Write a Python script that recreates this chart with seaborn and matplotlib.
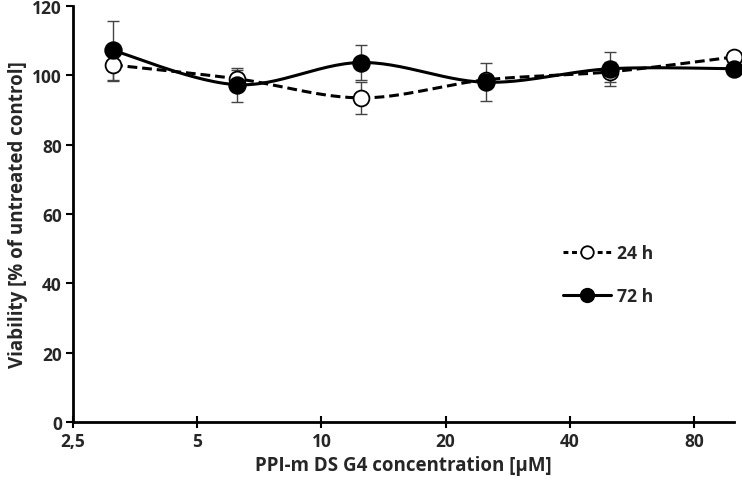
import numpy as np
import pandas as pd
import matplotlib
matplotlib.use("Agg")
import matplotlib.pyplot as plt
from matplotlib.lines import Line2D
import seaborn as sns

# ---- data ----
conc = [3.125, 6.25, 12.5, 25, 50, 100]
v24 = [103.0, 99.0, 93.5, 98.7, 101.0, 105.3]
e24 = [4.6, 2.6, 4.6, 1.0, 2.8, 0.8]
v72 = [107.2, 97.3, 103.7, 98.0, 101.9, 101.9]
e72 = [8.5, 4.9, 5.0, 5.5, 4.9, 0.5]
xticks = [2.5, 5, 10, 20, 40, 80]
xticklabels = ["2,5", "5", "10", "20", "40", "80"]
yticks = [0, 20, 40, 60, 80, 100, 120]

sns.set_theme(style="ticks")
plt.rcParams['font.family'] = ['Open Sans', 'DejaVu Sans']
plt.rcParams['font.weight'] = 'bold'

fig = plt.figure(figsize=(7.42, 4.81), dpi=100)
ax = fig.add_axes([73/742, 58/481, (734-73)/742, (423-7)/481])


def smooth(xs, ys, n=30):
    # Catmull-Rom style smoothing in log-x space (like a spreadsheet smoothed line)
    lx = np.log2(np.asarray(xs, float))
    y = np.asarray(ys, float)
    P = np.column_stack([lx, y])
    P = np.vstack([P[0], P, P[-1]])
    out = []
    for i in range(1, len(P) - 2):
        p0, p1, p2, p3 = P[i-1], P[i], P[i+1], P[i+2]
        t = np.linspace(0, 1, n)[:, None]
        c1 = p1 + (p2 - p0) / 6
        c2 = p2 - (p3 - p1) / 6
        seg = (1-t)**3*p1 + 3*(1-t)**2*t*c1 + 3*(1-t)*t**2*c2 + t**3*p2
        out.append(seg)
    out = np.vstack(out)
    return 2 ** out[:, 0], out[:, 1]

# error bars
ax.errorbar(conc, v24, yerr=e24, fmt="none", ecolor="#444444", elinewidth=1.0,
            capsize=4, capthick=1.0, zorder=2, clip_on=False)
ax.errorbar(conc, v72, yerr=e72, fmt="none", ecolor="#444444", elinewidth=1.0,
            capsize=4, capthick=1.0, zorder=2, clip_on=False)

sx, sy = smooth(conc, v24)
ax.plot(sx, sy, color="black", lw=2.2, ls=(0, (3.2, 1.6)), zorder=3, clip_on=False)
sx, sy = smooth(conc, v72)
ax.plot(sx, sy, color="black", lw=2.2, ls="-", zorder=3, clip_on=False)

df24 = pd.DataFrame({"conc": conc, "v": v24})
df72 = pd.DataFrame({"conc": conc, "v": v72})
sns.scatterplot(data=df24, x="conc", y="v", ax=ax, s=130, facecolor="white",
                edgecolor="black", linewidth=1.3, zorder=4, clip_on=False)
sns.scatterplot(data=df72, x="conc", y="v", ax=ax, s=150, color="black",
                edgecolor="black", linewidth=1.0, zorder=5, clip_on=False)

ax.set_xscale("log")
ax.set_xlim(2.5, 100)
ax.set_ylim(0, 120)
ax.set_xticks(xticks)
ax.set_xticklabels(xticklabels)
ax.minorticks_off()
ax.set_yticks(yticks)
ax.tick_params(axis="both", labelsize=12.5, width=1.5, length=5, color="black")
ax.tick_params(axis="x", direction="inout", length=8, pad=3)
ax.tick_params(axis="y", pad=3)
for lab in ax.get_xticklabels() + ax.get_yticklabels():
    lab.set_fontweight("bold")

for s in ["top", "right"]:
    ax.spines[s].set_visible(False)
for s in ["left", "bottom"]:
    ax.spines[s].set_linewidth(2)
    ax.spines[s].set_color("black")

ax.set_xlabel("PPI-m DS G4 concentration [μM]", fontsize=13.5, fontweight="bold", labelpad=4)
ax.set_ylabel("Viability [% of untreated control]", fontsize=13.5, fontweight="bold", labelpad=3)

handles = [
    Line2D([], [], color="black", lw=2.2, ls=(0, (1.6, 1.2)), marker="o",
           markersize=9, markerfacecolor="white", markeredgecolor="black", markeredgewidth=1.3),
    Line2D([], [], color="black", lw=2.2, ls="-", marker="o",
           markersize=10, markerfacecolor="black", markeredgecolor="black"),
]
leg = ax.legend(handles, ["24 h", "72 h"], frameon=False, loc="upper left",
                bbox_to_anchor=((547-73)/661, (423-229)/416), handlelength=2.75,
                handletextpad=0.3, labelspacing=1.45, prop={"size": 12.7, "weight": "bold"})

fig.savefig("out.png", dpi=100)
